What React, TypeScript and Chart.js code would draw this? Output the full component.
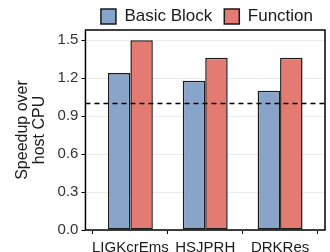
import React, { useEffect, useRef } from "react";
import { Chart, registerables } from "chart.js";

Chart.register(...registerables);

const categories = ["LIGKcrEms", "HSJPRH", "DRKRes"];
const basicBlock = [1.24, 1.18, 1.1];
const functionVals = [1.5, 1.36, 1.36];
const yTicks = [0.0, 0.3, 0.6, 0.9, 1.2, 1.5];
const refLine = 1.0;

const FONT = "'Liberation Sans', Arial, sans-serif";

const toPoints = (vals: number[]) => vals.map((v, i) => ({ x: i + 1, y: v }));

const overlay = {
  id: "overlay",
  afterLayout(chart: any) {
    if (chart.legend) {
      chart.legend.top -= 4;
      chart.legend.bottom -= 4;
    }
  },
  afterDatasetsDraw(chart: any) {
    const { ctx, chartArea, scales } = chart;
    const y = scales.y.getPixelForValue(refLine);
    ctx.save();
    ctx.strokeStyle = "#000";
    ctx.lineWidth = 1.5;
    ctx.setLineDash([5, 4]);
    ctx.beginPath();
    ctx.moveTo(chartArea.left, y);
    ctx.lineTo(chartArea.right, y);
    ctx.stroke();
    ctx.setLineDash([]);
    ctx.lineWidth = 1.5;
    ctx.strokeRect(chartArea.left, chartArea.top, chartArea.right - chartArea.left, chartArea.bottom - chartArea.top);
    ctx.restore();
  },
};

export default function App() {
  const ref = useRef<HTMLCanvasElement>(null);
  useEffect(() => {
    const chart = new Chart(ref.current!, {
      type: "bar",
      data: {
        datasets: [
          {
            label: "Basic Block",
            data: toPoints(basicBlock),
            backgroundColor: "#88A4C9",
            borderColor: "#1a1a1a",
            borderWidth: 1.5,
            borderSkipped: false,
          },
          {
            label: "Function",
            data: toPoints(functionVals),
            backgroundColor: "#E47B73",
            borderColor: "#1a1a1a",
            borderWidth: 1.5,
            borderSkipped: false,
          },
        ],
      },
      options: {
        animation: false,
        responsive: false,
        maintainAspectRatio: false,
        layout: { padding: { left: 14, right: 5, top: 0, bottom: 0 } },
        datasets: { bar: { categoryPercentage: 0.6, barPercentage: 1 } },
        plugins: {
          legend: {
            position: "top",
            align: "end",
            maxHeight: 30,
            labels: {
              font: { family: FONT, size: 17 },
              color: "#1a1a1a",
              boxWidth: 15,
              boxHeight: 15,
              padding: 12,
            },
          },
          tooltip: { enabled: false },
        },
        scales: {
          x: {
            type: "linear",
            offset: false,
            min: 0.4,
            max: 3.6,
            afterBuildTicks: (axis: any) => {
              axis.ticks = categories.map((_, i) => ({ value: i + 1 }));
            },
            afterFit: (scale: any) => {
              scale.height = 22;
            },
            grid: { display: true, drawOnChartArea: false, tickLength: 4, tickColor: "#000" },
            border: { display: false },
            ticks: {
              font: { family: FONT, size: 15 },
              color: "#1a1a1a",
              padding: 5,
              maxRotation: 0,
              minRotation: 0,
              autoSkip: false,
              callback: (v: any) => categories[Math.round(Number(v)) - 1] ?? "",
            },
          },
          y: {
            min: 0,
            max: 1.58,
            afterBuildTicks: (axis: any) => {
              axis.ticks = yTicks.map((v) => ({ value: v }));
            },
            grid: { color: "#ebebeb", lineWidth: 1, tickLength: 4, tickColor: "#000" },
            border: { display: false },
            ticks: {
              font: { family: FONT, size: 15 },
              color: "#333",
              padding: 3,
              callback: (v: any) => Number(v).toFixed(1),
            },
            title: {
              display: true,
              text: ["Speedup over", "host CPU"],
              font: { family: FONT, size: 16, lineHeight: 1.05 },
              color: "#1a1a1a",
              padding: { top: 0, bottom: 7 },
            },
          },
        },
      },
      plugins: [overlay],
    });
    return () => chart.destroy();
  }, []);
  return (
    <div style={{ position: "fixed", left: 0, top: 0, width: 330, height: 252, background: "#fff" }}>
      <canvas ref={ref} width={330} height={252} style={{ display: "block" }} />
    </div>
  );
}
